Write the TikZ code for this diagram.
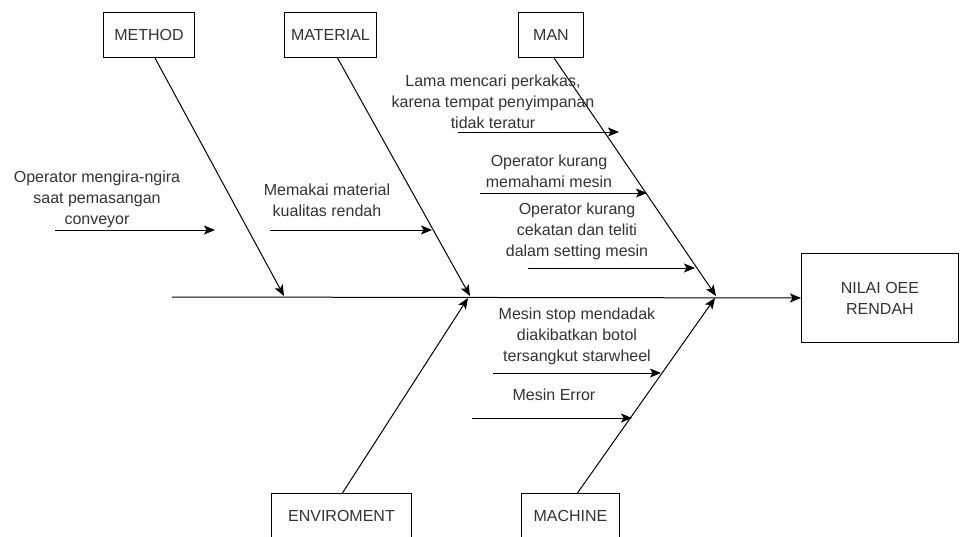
\documentclass[tikz,border=0pt]{standalone}
\usepackage{fontspec}
\setmainfont{Liberation Sans}
\usepackage{tikz}
\usetikzlibrary{arrows.meta,positioning}
\definecolor{fishtext}{HTML}{333333}
\tikzset{
  catbox/.style={draw, line width=0.9pt, minimum height=45pt, inner sep=0pt, anchor=north west, font=\fontsize{16}{21}\selectfont, text=fishtext},
  bone/.style={-{Stealth[length=11pt,width=9pt,inset=2.5pt]}, line width=1pt},
  cause/.style={-{Stealth[length=11pt,width=9pt,inset=2.5pt]}, line width=1pt},
  info/.style={font=\fontsize{16}{21}\selectfont, align=center, text=fishtext, inner sep=0pt}
}

\begin{document}
\begin{tikzpicture}[x=1pt, y=-1pt]
  \useasboundingbox (0,0) rectangle (960,536);
  \node[catbox, minimum width=91pt] (method) at (103,12) {METHOD};
  \node[catbox, minimum width=92pt] (material) at (284,12) {MATERIAL};
  \node[catbox, minimum width=65pt] (man) at (518,12) {MAN};
  \node[catbox, minimum width=140pt] (env) at (271,493) {ENVIROMENT};
  \node[catbox, minimum width=98pt] (machine) at (521,493) {MACHINE};
  \node[catbox, minimum width=157pt, minimum height=89pt, align=center] (effect) at (801,253) {NILAI OEE\\RENDAH};
  \coordinate (tail) at (172,297);
  \coordinate (jmethod) at (284,296);
  \coordinate (jmaterial) at (470,296);
  \coordinate (jman) at (716,296);
  \coordinate (jenv) at (468,298);
  \coordinate (jmachine) at (715,298);
  \draw[bone] (tail) -- (effect.west);
  \draw[bone] ([xshift=6pt]method.south) -- (jmethod);
  \draw[bone] ([xshift=7pt]material.south) -- (jmaterial);
  \draw[bone] ([xshift=3pt]man.south) -- (jman);
  \draw[bone] ([xshift=1pt]env.north) -- (jenv);
  \draw[bone] ([xshift=7pt]machine.north) -- (jmachine);
  \coordinate (c1s) at (55,230);  \coordinate (c1e) at (215,230);
  \coordinate (c2s) at (270,230); \coordinate (c2e) at (432,230);
  \coordinate (c3s) at (458,132); \coordinate (c3e) at (619,132);
  \coordinate (c4s) at (480,193); \coordinate (c4e) at (647,193);
  \coordinate (c5s) at (528,268); \coordinate (c5e) at (695,268);
  \coordinate (c6s) at (493,373); \coordinate (c6e) at (661,373);
  \coordinate (c7s) at (472,418); \coordinate (c7e) at (632,418);
  \draw[cause] (c1s) -- (c1e);
  \draw[cause] (c2s) -- (c2e);
  \draw[cause] (c3s) -- (c3e);
  \draw[cause] (c4s) -- (c4e);
  \draw[cause] (c5s) -- (c5e);
  \draw[cause] (c6s) -- (c6e);
  \draw[cause] (c7s) -- (c7e);
  \node[info] (t1) at (97,199) {Operator mengira-ngira\\saat pemasangan\\conveyor};
  \node[info] (t2) at (327,200) {Memakai material\\kualitas rendah};
  \node[info] (t3) at (493,102) {Lama mencari perkakas,\\karena tempat penyimpanan\\tidak teratur};
  \node[info] (t4) at (549,171) {Operator kurang\\memahami mesin};
  \node[info] (t5) at (577,231) {Operator kurang\\cekatan dan teliti\\dalam setting mesin};
  \node[info] (t6) at (577,336) {Mesin stop mendadak\\diakibatkan botol\\tersangkut starwheel};
  \node[info] (t7) at (554,395) {Mesin Error};
\end{tikzpicture}
\end{document}
